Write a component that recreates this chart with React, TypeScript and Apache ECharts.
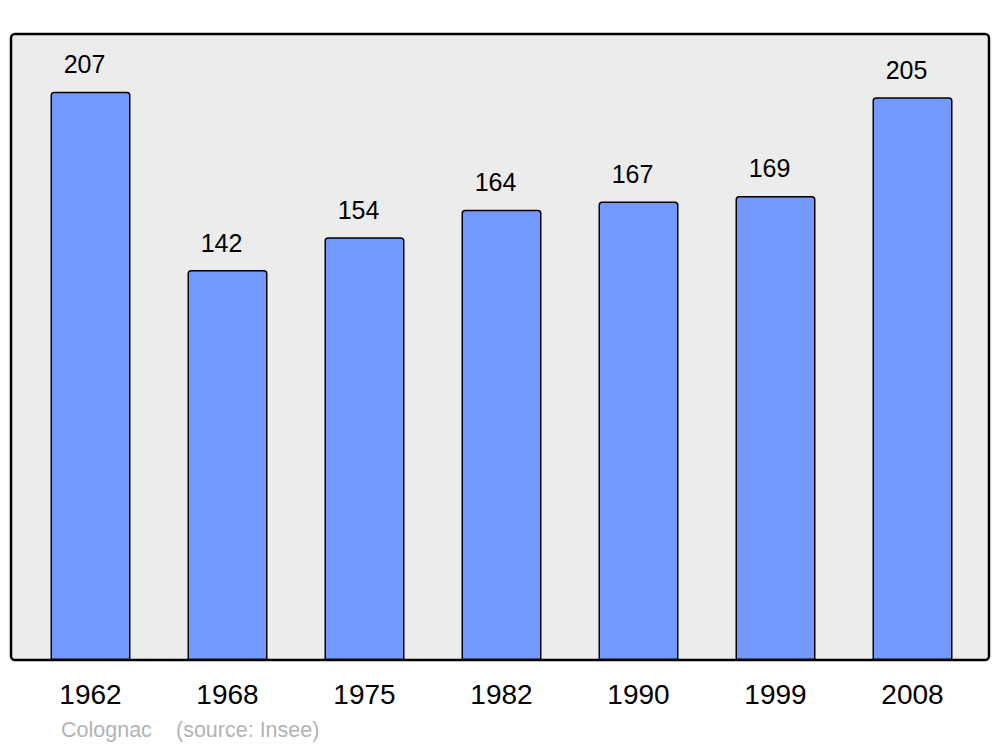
import React, { useEffect, useRef } from "react";
import * as echarts from "echarts";

const years = ["1962", "1968", "1975", "1982", "1990", "1999", "2008"];
const population = [207, 142, 154, 164, 167, 169, 205];
const placeText = "Colognac";
const sourceText = "(source: Insee)";

export default function App() {
  const ref = useRef<HTMLDivElement>(null);
  useEffect(() => {
    document.body.style.margin = "0";
    const chart = echarts.init(ref.current!, null, { renderer: "svg" });
    const font = "'Liberation Sans', Arial, sans-serif";
    chart.setOption({
      animation: false,
      graphic: [
        {
          type: "rect",
          z: -10,
          shape: { x: 11, y: 34, width: 978, height: 626, r: 4 },
          style: { fill: "#ececec", stroke: "#000", lineWidth: 2.5 },
        },
        {
          type: "text",
          x: 61,
          y: 719,
          style: { text: placeText, fill: "#b3b3b3", font: "21.5px " + font },
        },
        {
          type: "text",
          x: 176,
          y: 719,
          style: { text: sourceText, fill: "#b3b3b3", font: "21.5px " + font },
        },
      ],
      grid: { left: 22, right: 19, top: 34, bottom: 87, containLabel: false },
      xAxis: {
        type: "category",
        data: years,
        axisLine: { show: false },
        axisTick: { show: false },
        axisLabel: {
          color: "#000",
          fontSize: 28,
          fontFamily: font,
          margin: 20,
        },
      },
      yAxis: {
        type: "value",
        min: 0,
        max: 228,
        show: false,
        splitLine: { show: false },
      },
      series: [
        {
          type: "bar",
          data: population,
          barWidth: 80,
          itemStyle: {
            color: "#7399ff",
            borderColor: "#000",
            borderWidth: 1.5,
            borderRadius: [3, 3, 0, 0],
          },
          label: {
            show: true,
            position: "top",
            distance: 15,
            offset: [-6, 0],
            color: "#000",
            fontSize: 25,
            fontFamily: font,
          },
        },
      ],
    });
    return () => chart.dispose();
  }, []);
  return <div ref={ref} style={{ width: 1000, height: 747 }} />;
}
